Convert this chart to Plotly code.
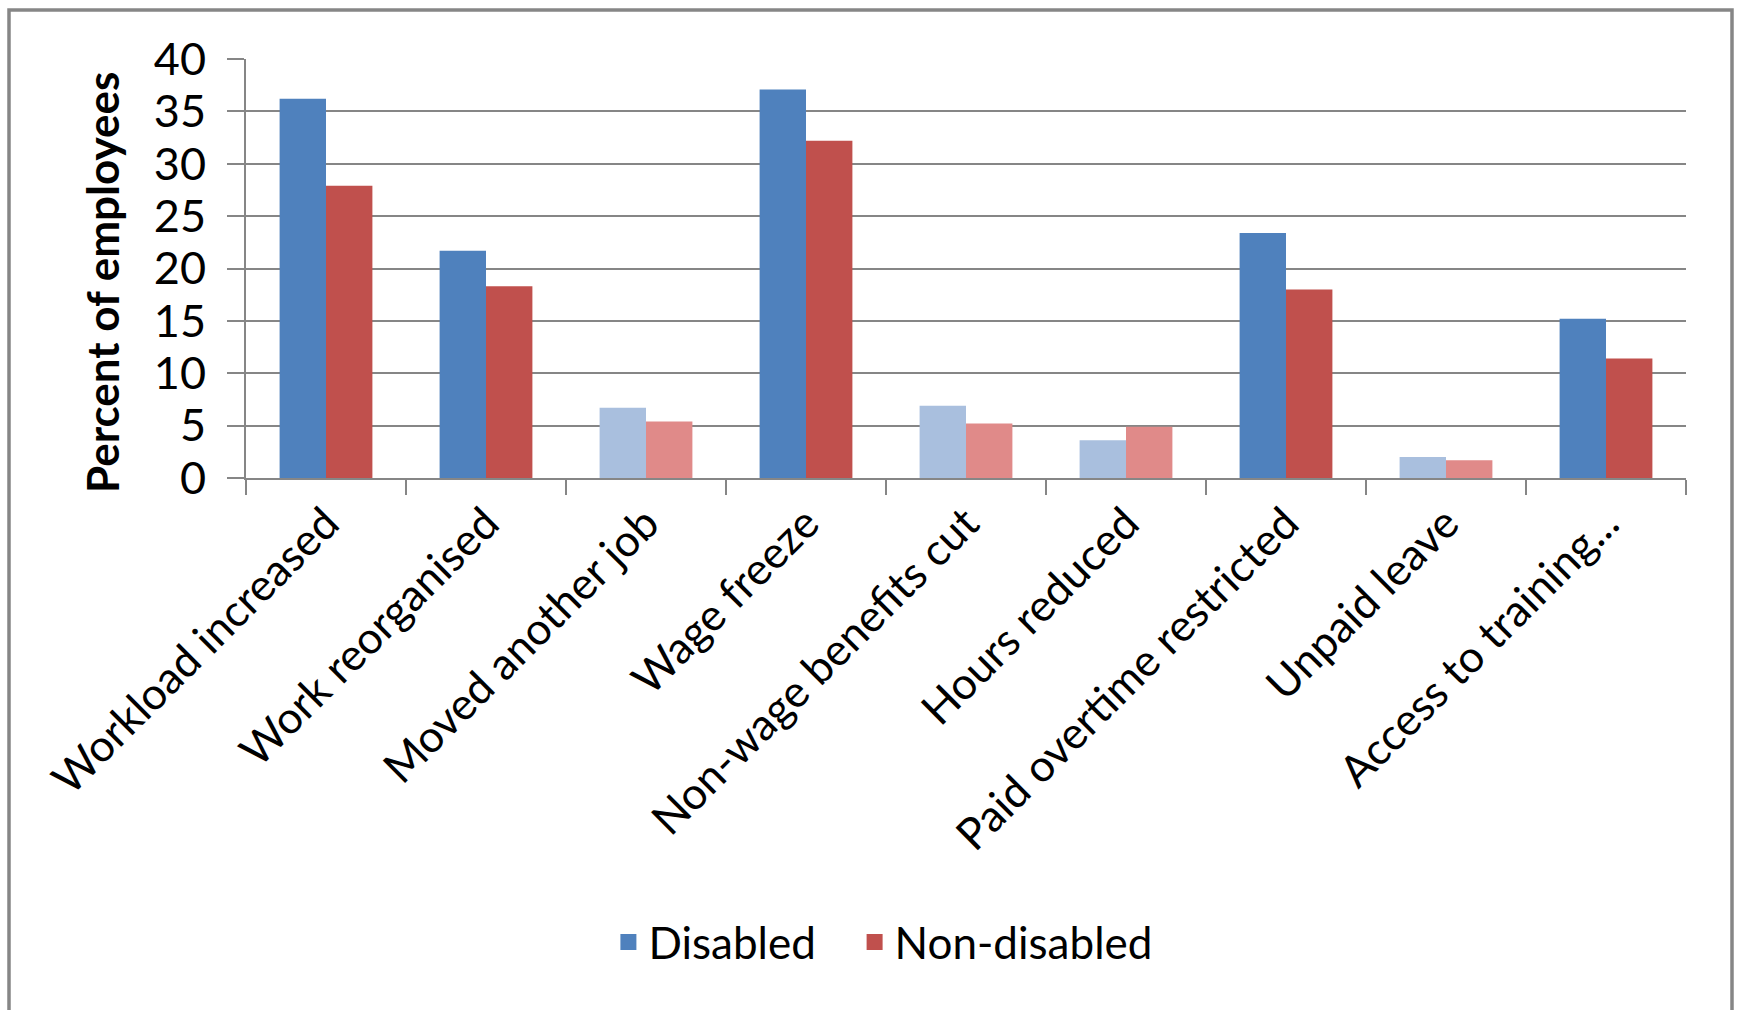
import plotly.graph_objects as go

categories = ["Workload increased", "Work reorganised", "Moved another job", "Wage freeze",
              "Non-wage benefits cut", "Hours reduced", "Paid overtime restricted",
              "Unpaid leave", "Access to training..."]
disabled = [36.2, 21.7, 6.7, 37.1, 6.9, 3.6, 23.4, 2.0, 15.2]
non_disabled = [27.9, 18.3, 5.4, 32.2, 5.2, 4.9, 18.0, 1.7, 11.4]
faded = [False, False, True, False, True, True, False, True, False]
series_names = ["Disabled", "Non-disabled"]

BLUE, BLUE_L = "#4F81BD", "#A9BFDE"
RED, RED_L = "#C0504D", "#E08A89"

fig = go.Figure()
fig.add_trace(go.Bar(x=categories, y=disabled, name=series_names[0], showlegend=False,
                     marker=dict(color=[BLUE_L if f else BLUE for f in faded], line=dict(width=0))))
fig.add_trace(go.Bar(x=categories, y=non_disabled, name=series_names[1], showlegend=False,
                     marker=dict(color=[RED_L if f else RED for f in faded], line=dict(width=0))))
# legend entries with larger square swatches
for name, col, pad in [(series_names[0], BLUE, "\u00a0\u00a0\u00a0"), (series_names[1], RED, "")]:
    fig.add_trace(go.Scatter(x=[None], y=[None], mode="markers", name=name + pad,
                             marker=dict(symbol="square", size=26, color=col)))

FONT = "Lato, Calibri, 'Open Sans', sans-serif"
W, H = 1738, 1010
L, R, T, B = 246, 52, 59, 532
pw, ph = W - L - R, H - T - B

def px(x):
    return (x - L) / pw

def py(y):
    return (H - B - y) / ph

fig.update_layout(
    width=W, height=H,
    margin=dict(l=L, r=R, t=T, b=B, autoexpand=False),
    paper_bgcolor="white", plot_bgcolor="white",
    barmode="group", bargap=0.42, bargroupgap=0,
    font=dict(family=FONT, color="black", size=44),
    showlegend=True,
    legend=dict(orientation="h", xref="container", yref="container",
                x=0.508, y=0.067, xanchor="center", yanchor="middle",
                font=dict(size=44, family=FONT), itemwidth=30, traceorder="normal",
                itemsizing="trace"),
    shapes=[dict(type="rect", xref="paper", yref="paper",
                 x0=px(9), x1=px(1732), y0=py(1100), y1=py(10),
                 line=dict(color="#868686", width=3.5), fillcolor="rgba(0,0,0,0)", layer="below")],
    annotations=[dict(text="<b>Percent of employees</b>", xref="paper", yref="paper",
                      x=px(102), y=py(283), xanchor="center", yanchor="middle",
                      textangle=-90, showarrow=False, font=dict(size=44, family=FONT, color="black"))],
)
fig.update_xaxes(type="category", tickangle=-45, tickfont=dict(size=44, family=FONT),
                 showline=True, linecolor="#868686", linewidth=2,
                 ticks="outside", ticklen=15, tickcolor="#868686", tickwidth=2,
                 tickson="boundaries", showgrid=False, range=[-0.5, 8.5])
fig.update_yaxes(range=[0, 40], dtick=5, tickfont=dict(size=45, family=FONT),
                 showgrid=True, gridcolor="#868686", gridwidth=2,
                 showline=True, linecolor="#868686", linewidth=2,
                 ticks="outside", ticklen=17, tickcolor="#868686", tickwidth=2,
                 ticklabelstandoff=12, zeroline=False)

fig.write_html("out.html")
